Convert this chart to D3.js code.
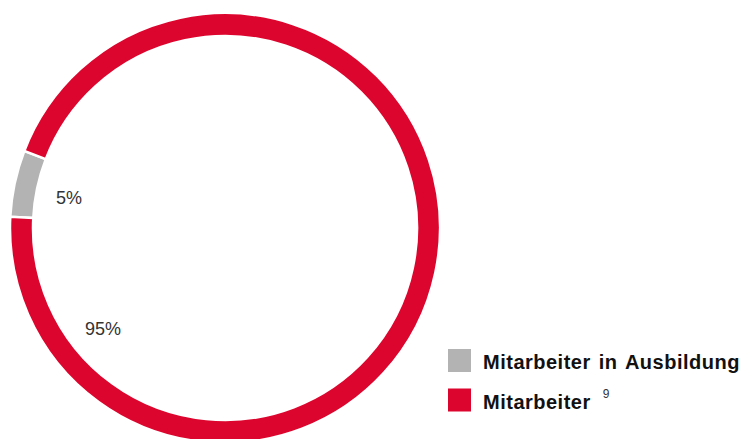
<!DOCTYPE html>
<html>
<head>
    <script src="https://cdnjs.cloudflare.com/ajax/libs/d3/7.8.5/d3.min.js"></script>
    <style>
        body, html {
            margin: 0;
            padding: 0;
            width: 100%;
            height: 100%;
            overflow: hidden;
            background: #fff;
        }
        svg {
            display: block;
        }
        .slice-label {
            font-family: "Liberation Sans", Arial, sans-serif;
            font-size: 18px;
            fill: #333;
        }
        .legend-label {
            font-family: "Liberation Sans", Arial, sans-serif;
            font-size: 20px;
            font-weight: bold;
            letter-spacing: 0.5px;
            word-spacing: 2px;
            fill: #111;
        }
        .legend-sup {
            font-family: "Liberation Sans", Arial, sans-serif;
            font-size: 12px;
            fill: #333;
        }
    </style>
</head>
<body>
    <svg></svg>
    <script>
        const width = 744;
        const height = 439;

        // data
        const categories = ["Mitarbeiter in Ausbildung", "Mitarbeiter"];
        const values = [5, 95];
        const valueLabels = ["5%", "95%"];
        const footnotes = ["", "9"];
        const colors = ["#b3b3b3", "#dc052d"];

        const svg = d3.select("svg")
            .attr("width", width)
            .attr("height", height);

        const cx = 225, cy = 228;
        const outerR = 215, innerR = 192;

        const data = categories.map((c, i) => ({ name: c, value: values[i], label: valueLabels[i], color: colors[i], note: footnotes[i] }));

        // gray slice begins just above 9 o'clock
        const start = -87 * Math.PI / 180;
        const pie = d3.pie()
            .sort(null)
            .value(d => d.value)
            .startAngle(start)
            .endAngle(start + 2 * Math.PI);

        const arc = d3.arc()
            .innerRadius(innerR)
            .outerRadius(outerR);

        const g = svg.append("g")
            .attr("transform", `translate(${cx},${cy})`);

        const arcs = pie(data);

        g.selectAll("path")
            .data(arcs)
            .join("path")
            .attr("d", arc)
            .attr("fill", d => d.data.color)
            .attr("stroke", "#fff")
            .attr("stroke-width", 2.5);

        // value labels placed inside the ring
        const labelPos = [[56, 204], [85, 335]];
        svg.selectAll(".slice-label")
            .data(arcs)
            .join("text")
            .attr("class", "slice-label")
            .attr("x", (d, i) => labelPos[i][0])
            .attr("y", (d, i) => labelPos[i][1])
            .text(d => d.data.label);

        // legend
        const legend = svg.append("g")
            .attr("transform", "translate(448,349)");

        const item = legend.selectAll("g")
            .data(data)
            .join("g")
            .attr("transform", (d, i) => `translate(0,${i * 39.5})`);

        item.append("rect")
            .attr("width", 23)
            .attr("height", 23)
            .attr("fill", d => d.color);

        item.append("text")
            .attr("class", "legend-label")
            .attr("x", 35)
            .attr("y", 20)
            .text(d => d.name);

        item.filter(d => d.note)
            .append("text")
            .attr("class", "legend-sup")
            .attr("y", 9)
            .attr("x", function(d) {
                const t = d3.select(this.parentNode).select(".legend-label").node();
                return 35 + t.getComputedTextLength() + 12;
            })
            .text(d => d.note);
    </script>
</body>
</html>
